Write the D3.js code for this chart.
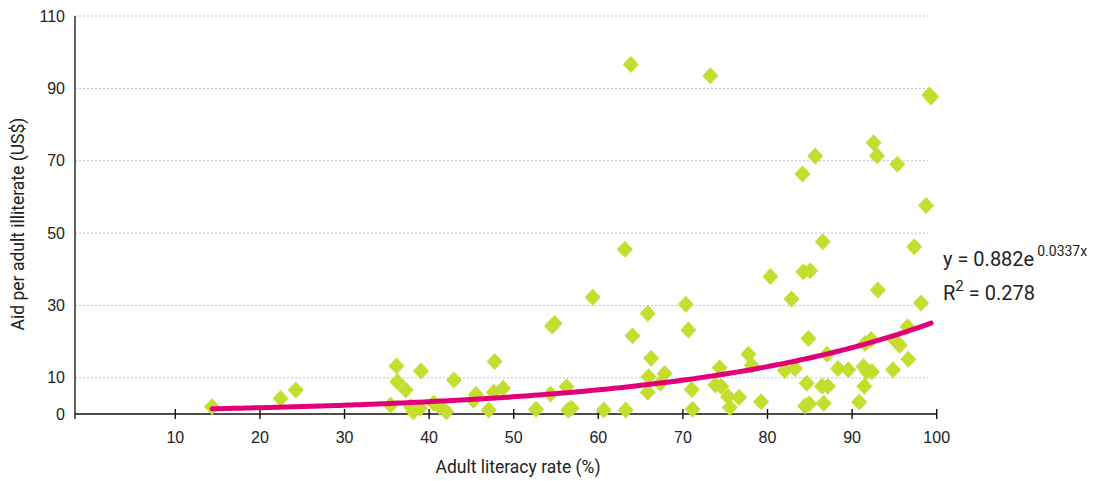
<!DOCTYPE html>
<html>
<head>
<meta charset="utf-8">
<script src="https://cdn.jsdelivr.net/npm/d3@7"></script>
<style>
  html, body { margin: 0; padding: 0; background: #fff; }
  svg { display: block; font-family: Roboto, "Noto Sans", sans-serif; }
</style>
</head>
<body>
<svg id="chart" width="1101" height="481"></svg>
<script>
// ---- data ----
const literacy = [14.4,22.5,24.3,35.5,36.2,36.3,37.3,37.9,38.2,39.0,39.1,40.6,41.3,42.1,43.0,45.6,45.3,47.1,47.7,47.8,48.8,
  52.7,54.4,54.6,54.9,56.3,56.5,56.9,59.4,60.7,63.2,63.3,63.9,64.1,65.9,66.3,66.0,65.9,67.4,67.9,70.4,70.7,71.1,71.2,
  73.3,73.9,74.4,74.6,75.4,75.6,76.7,77.8,78.2,79.3,80.4,82.1,82.9,83.3,84.2,84.3,85.1,84.9,84.7,84.5,85.0,85.7,86.6,
  86.5,86.7,87.1,87.2,88.4,89.6,90.9,91.4,91.5,91.6,91.8,92.3,92.4,92.6,93.0,93.1,94.9,95.2,95.7,95.4,96.6,96.7,97.4,
  98.2,98.8,99.2,99.4];
const aidPerIlliterate = [2.0,4.3,6.6,2.5,13.3,8.9,6.6,2.0,0.6,1.6,11.9,3.0,2.0,0.6,9.4,5.4,3.8,1.1,6.0,14.5,7.1,
  1.3,5.5,24.3,25.0,7.5,1.1,1.6,32.3,1.1,45.5,1.1,96.6,21.6,27.8,15.4,10.3,6.0,8.5,11.2,30.3,23.2,6.8,1.3,
  93.5,8.0,12.8,7.6,4.8,1.8,4.6,16.5,13.5,3.4,38.0,12.0,31.8,12.6,66.3,39.3,39.6,20.9,8.5,2.2,2.8,71.3,47.6,
  7.7,3.0,16.5,7.7,12.6,12.2,3.3,13.1,7.7,19.5,11.7,20.6,11.7,75.0,71.4,34.3,12.2,20.2,19.0,69.0,24.1,15.1,46.2,
  30.7,57.6,88.2,87.6];
const xTicks = [10,20,30,40,50,60,70,80,90,100];
const yTicks = [0,10,30,50,70,90,110];
const fitA = 0.882, fitB = 0.0337, fitR2 = 0.278;
const fitRange = [14.4, 99.5];
const xTitle = "Adult literacy rate (%)";
const yTitle = "Aid per adult illiterate (US$)";

// ---- scales ----
const svg = d3.select("#chart");
const x = d3.scaleLinear().domain([-1.8, 100]).range([75, 936.2]);
const y = d3.scaleLinear().domain([0, 110]).range([414, 16]);

// gridlines
svg.append("g").selectAll("line").data(yTicks.filter(d => d > 0)).join("line")
  .attr("x1", 75).attr("x2", 928)
  .attr("y1", d => y(d)).attr("y2", d => y(d))
  .attr("stroke", "#a7c7df").attr("stroke-width", 1).attr("stroke-dasharray", "2,2");

// y axis
const yAxis = svg.append("g").attr("transform", "translate(75,0)")
  .call(d3.axisLeft(y).tickValues(yTicks).tickSize(0).tickPadding(10));
yAxis.select(".domain").attr("stroke", "#3a3a3a").attr("stroke-width", 1.6).attr("d", "M0,16V419");
yAxis.selectAll("text").attr("font-size", 16).attr("fill", "#222");

// x axis
const xAxis = svg.append("g").attr("transform", "translate(0,414)")
  .call(d3.axisBottom(x).tickValues(xTicks).tickSize(5).tickPadding(10));
xAxis.select(".domain").attr("stroke", "#111").attr("stroke-width", 1.4).attr("d", "M75,0H936.2");
xAxis.selectAll(".tick line").attr("y1", -5).attr("y2", 5).attr("stroke", "#111").attr("stroke-width", 1.4);
xAxis.selectAll("text").attr("font-size", 16).attr("fill", "#222").attr("dy", "0.85em");

// titles
svg.append("text").attr("x", 518).attr("y", 473).attr("text-anchor", "middle")
  .attr("font-size", 17.5).attr("fill", "#222").text(xTitle);
svg.append("text").attr("transform", "translate(24,224) rotate(-90)").attr("text-anchor", "middle")
  .attr("font-size", 17.5).attr("fill", "#222").text(yTitle);

// points
const pts = literacy.map((v, i) => [v, aidPerIlliterate[i]]);
svg.append("g").selectAll("path").data(pts).join("path")
  .attr("transform", d => `translate(${x(d[0])},${y(d[1])})`)
  .attr("d", "M0,-8.5L8,0L0,8.5L-8,0Z")
  .attr("fill", "#c4dd2f");

// trend line
const fitXs = d3.range(fitRange[0], fitRange[1] + 0.001, 0.5);
svg.append("path").datum(fitXs)
  .attr("d", d3.line().x(d => x(d)).y(d => y(fitA * Math.exp(fitB * d))))
  .attr("fill", "none").attr("stroke", "#e2007a").attr("stroke-width", 5).attr("stroke-linecap", "round");

// equation
const eq = svg.append("text").attr("x", 943).attr("y", 266).attr("font-size", 20).attr("fill", "#222");
eq.append("tspan").text(`y = ${fitA}e`);
eq.append("tspan").attr("dx", 3).attr("dy", -10).attr("font-size", 14).text(`${fitB}x`);
const r2 = svg.append("text").attr("x", 943).attr("y", 300).attr("font-size", 20).attr("fill", "#222");
r2.append("tspan").text("R");
r2.append("tspan").attr("dy", -9).attr("font-size", 15).text("2");
r2.append("tspan").attr("dy", 9).text(` = ${fitR2}`);
</script>
</body>
</html>
